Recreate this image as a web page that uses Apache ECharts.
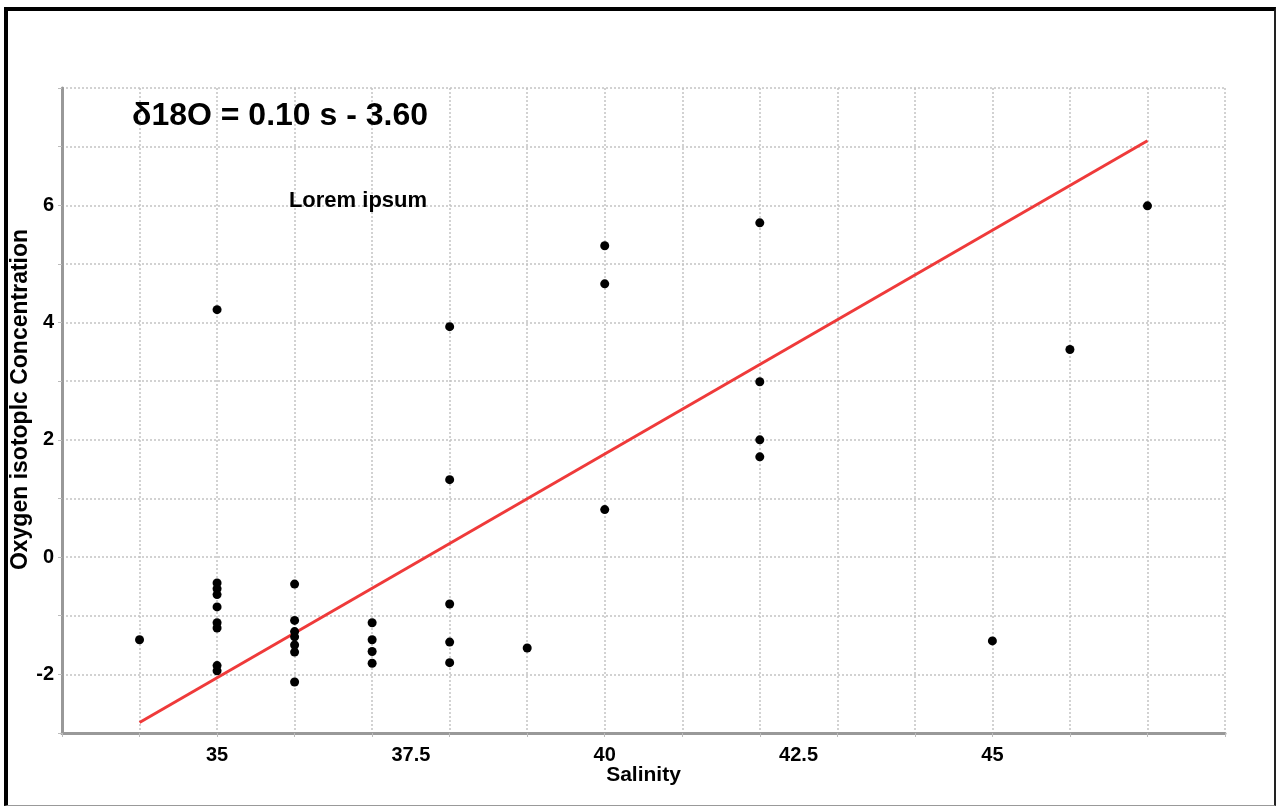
<!DOCTYPE html>
<html>
<head>
<meta charset="utf-8">
<script src="https://cdn.jsdelivr.net/npm/echarts@6/dist/echarts.min.js"></script>
<style>
  html, body { margin: 0; padding: 0; background: #fff; }
  #chart { width: 1277px; height: 808px; }
  #frame {
    position: absolute; left: 4px; top: 7px; width: 1272px; height: 799px;
    box-sizing: border-box; pointer-events: none;
    border-left: 4px solid #000; border-top: 4px solid #000;
    border-right: 2px solid #222; border-bottom: 1px solid #999;
  }
</style>
</head>
<body>
<div id="chart"></div>
<div id="frame"></div>
<script>
// salinity / d18O samples
const salinity = [
  34,
  35, 35, 35, 35, 35, 35, 35, 35, 35,
  36, 36, 36, 36, 36, 36, 36,
  37, 37, 37, 37,
  38, 38, 38, 38, 38,
  39,
  40, 40, 40,
  42, 42, 42, 42,
  45, 46, 47
]
const oxygen = [
  -1.41,
  4.22, -0.44, -0.54, -0.64, -0.85, -1.12, -1.21, -1.85, -1.94,
  -0.46, -1.08, -1.27, -1.36, -1.50, -1.62, -2.13,
  -1.12, -1.41, -1.61, -1.81,
  3.93, 1.32, -0.80, -1.45, -1.80,
  -1.55,
  5.31, 4.66, 0.81,
  5.70, 2.99, 2.00, 1.71,
  -1.43, 3.54, 5.99
]
// fitted line end points
const fitX = [34, 47]
const fitY = [-2.82, 7.10]

const xTickLabels = [35, 37.5, 40, 42.5, 45]
const yTickLabels = [-2, 0, 2, 4, 6]

const points = salinity.map((s, i) => [s, oxygen[i]])
const fitLine = fitX.map((s, i) => [s, fitY[i]])

const chart = echarts.init(document.getElementById("chart"))

const gridLine = {
  show: true,
  lineStyle: { color: "#c4c4c4", width: 1.5, type: [2, 2] },
}

chart.setOption({
  animation: false,
  title: {
    text: "δ18O = 0.10 s - 3.60",
    left: 127,
    top: 95,
    textStyle: {
      fontFamily: "Liberation Sans",
      fontWeight: "bold",
      fontSize: 32,
      color: "#000",
    },
  },
  graphic: [
    {
      type: "text",
      x: 358,
      y: 201,
      z: 100,
      style: {
        text: "Lorem ipsum",
        fontFamily: "Liberation Sans",
        fontWeight: "bold",
        fontSize: 22,
        fill: "#000",
        align: "center",
        verticalAlign: "middle",
      },
    },
  ],
  grid: { left: 62, right: 52, top: 88, bottom: 75, outerBoundsMode: "none" },
  xAxis: {
    type: "value",
    min: 33,
    max: 48,
    interval: 1,
    name: "Salinity",
    nameLocation: "middle",
    nameGap: 32,
    nameMoveOverlap: false,
    nameTextStyle: {
      fontFamily: "Liberation Sans",
      fontWeight: "bold",
      fontSize: 21,
      color: "#000",
    },
    axisLine: { onZero: false, lineStyle: { color: "#999", width: 3 } },
    axisTick: { show: true, length: 4, lineStyle: { color: "#bbb" } },
    axisLabel: {
      customValues: xTickLabels,
      margin: 12,
      fontFamily: "Liberation Sans",
      fontWeight: "bold",
      fontSize: 20,
      color: "#000",
    },
    splitLine: gridLine,
  },
  yAxis: {
    type: "value",
    min: -3,
    max: 8,
    interval: 1,
    name: "Oxygen isotoplc Concentration",
    nameLocation: "middle",
    nameGap: 30,
    nameMoveOverlap: false,
    nameTextStyle: {
      fontFamily: "Liberation Sans",
      fontWeight: "bold",
      fontSize: 23,
      color: "#000",
      padding: [0, 0, 0, 22],
    },
    axisLine: { show: true, onZero: false, lineStyle: { color: "#999", width: 3 } },
    axisTick: { show: true, length: 4, lineStyle: { color: "#bbb" } },
    axisLabel: {
      customValues: yTickLabels,
      margin: 8,
      fontFamily: "Liberation Sans",
      fontWeight: "bold",
      fontSize: 20,
      color: "#000",
    },
    splitLine: gridLine,
  },
  series: [
    {
      name: "fit",
      type: "line",
      data: fitLine,
      symbol: "none",
      lineStyle: { color: "#ef3a3a", width: 3 },
      z: 2,
    },
    {
      name: "samples",
      type: "scatter",
      data: points,
      symbolSize: 9,
      itemStyle: { color: "#000", opacity: 1 },
      z: 3,
    },
  ],
})
</script>
</body>
</html>
